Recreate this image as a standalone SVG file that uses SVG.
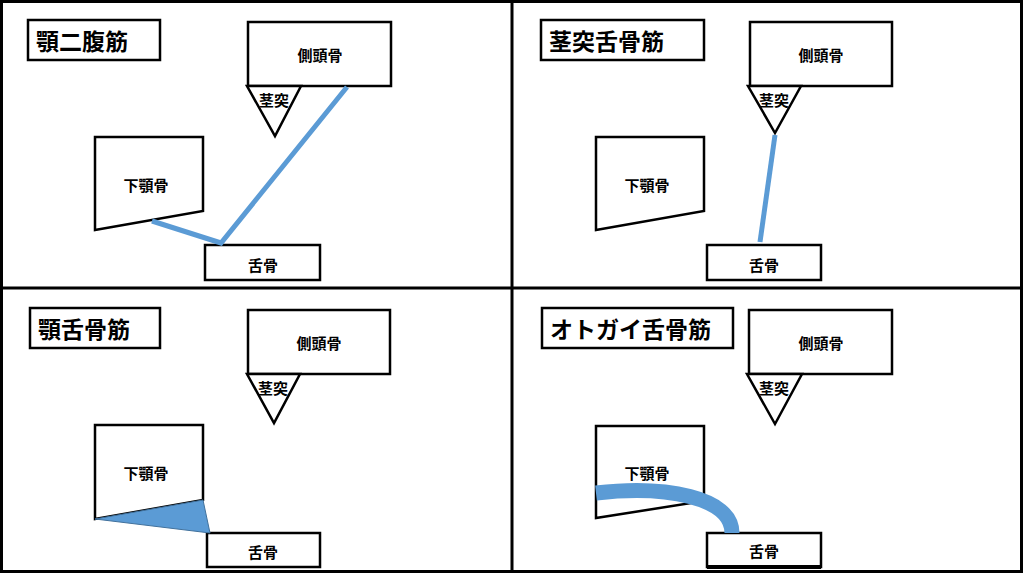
<svg xmlns="http://www.w3.org/2000/svg" width="1024" height="573" viewBox="0 0 1024 573">
<style>
.b{fill:#fff;stroke:#000;stroke-width:2.5}
.t{font-family:"Noto Sans CJK JP",sans-serif;font-weight:bold;font-size:15px;text-anchor:middle;dominant-baseline:central}
.h{font-family:"Noto Sans CJK JP",sans-serif;font-weight:bold;font-size:23px;dominant-baseline:central}
.m{fill:none;stroke:#5B9BD5;stroke-width:5}
</style>
<rect width="1024" height="573" fill="#fff"/>
<g id="frame" fill="none" stroke="#000" stroke-width="3">
<rect x="1.5" y="1.5" width="1020" height="570"/>
<line x1="512" y1="1" x2="512" y2="572"/>
<line x1="1" y1="288" x2="1022" y2="288"/>
</g>
<g id="p1">
<g id="t1"><rect class="b" x="28" y="20" width="132" height="40"/><text class="h" x="36" y="40">顎二腹筋</text></g>
<g id="s1"><rect class="b" x="248" y="22" width="143" height="64"/><text class="t" x="320" y="54">側頭骨</text></g>
<g id="k1"><polygon class="b" points="247,86 301,86 275,136"/><text class="t" x="274" y="99">茎突</text></g>
<g id="j1"><polygon class="b" points="95,137 203,137 203,211 95,230"/><text class="t" x="146" y="184">下顎骨</text></g>
<g id="h1"><rect class="b" x="205" y="245" width="115" height="35"/><text class="t" x="263" y="264">舌骨</text></g>
</g>
<g id="p2">
<g id="t2"><rect class="b" x="541" y="20" width="163" height="40"/><text class="h" x="549" y="40">茎突舌骨筋</text></g>
<g id="s2"><rect class="b" x="750" y="22" width="142" height="64"/><text class="t" x="821" y="54">側頭骨</text></g>
<g id="k2"><polygon class="b" points="748,86 801,86 775,133"/><text class="t" x="774" y="99">茎突</text></g>
<g id="j2"><polygon class="b" points="596,137 704,137 704,211 596,230"/><text class="t" x="647" y="184">下顎骨</text></g>
<g id="h2"><rect class="b" x="707" y="245" width="114" height="35"/><text class="t" x="764" y="264">舌骨</text></g>
</g>
<g id="p3">
<g id="t3"><rect class="b" x="30" y="308" width="130" height="40"/><text class="h" x="38" y="328">顎舌骨筋</text></g>
<g id="s3"><rect class="b" x="248" y="310" width="142" height="64"/><text class="t" x="319" y="342">側頭骨</text></g>
<g id="k3"><polygon class="b" points="247,374 300,374 274,423"/><text class="t" x="273" y="387">茎突</text></g>
<g id="j3"><polygon class="b" points="95,425 203,425 203,500 95,519"/><text class="t" x="146" y="472">下顎骨</text></g>
<g id="h3"><rect class="b" x="207" y="533" width="113" height="34"/><text class="t" x="263" y="551">舌骨</text></g>
</g>
<g id="p4">
<g id="t4"><rect class="b" x="542" y="308" width="191" height="40"/><text class="h" x="550" y="328">オトガイ舌骨筋</text></g>
<g id="s4"><rect class="b" x="749" y="310" width="143" height="64"/><text class="t" x="821" y="342">側頭骨</text></g>
<g id="k4"><polygon class="b" points="747,374 802,374 775,424"/><text class="t" x="774" y="387">茎突</text></g>
<g id="j4"><polygon class="b" points="596,426 704,426 704,501 596,518"/><text class="t" x="647" y="472">下顎骨</text></g>
<g id="h4"><rect class="b" x="707" y="533" width="114" height="34"/><line x1="707" y1="567" x2="821" y2="567" stroke="#000" stroke-width="4"/><text class="t" x="764" y="550">舌骨</text></g>
</g>
<g id="connectors">
<polyline class="m" points="152,221 221,243 347,87"/>
<line class="m" x1="775" y1="135" x2="760" y2="242"/>
<polygon points="95,519 203,500 210,533" fill="#5B9BD5" stroke="#41719C" stroke-width="1"/>
<path d="M596,493 C665,485 732,497 732,533" fill="none" stroke="#5B9BD5" stroke-width="15"/>
</g>
</svg>
